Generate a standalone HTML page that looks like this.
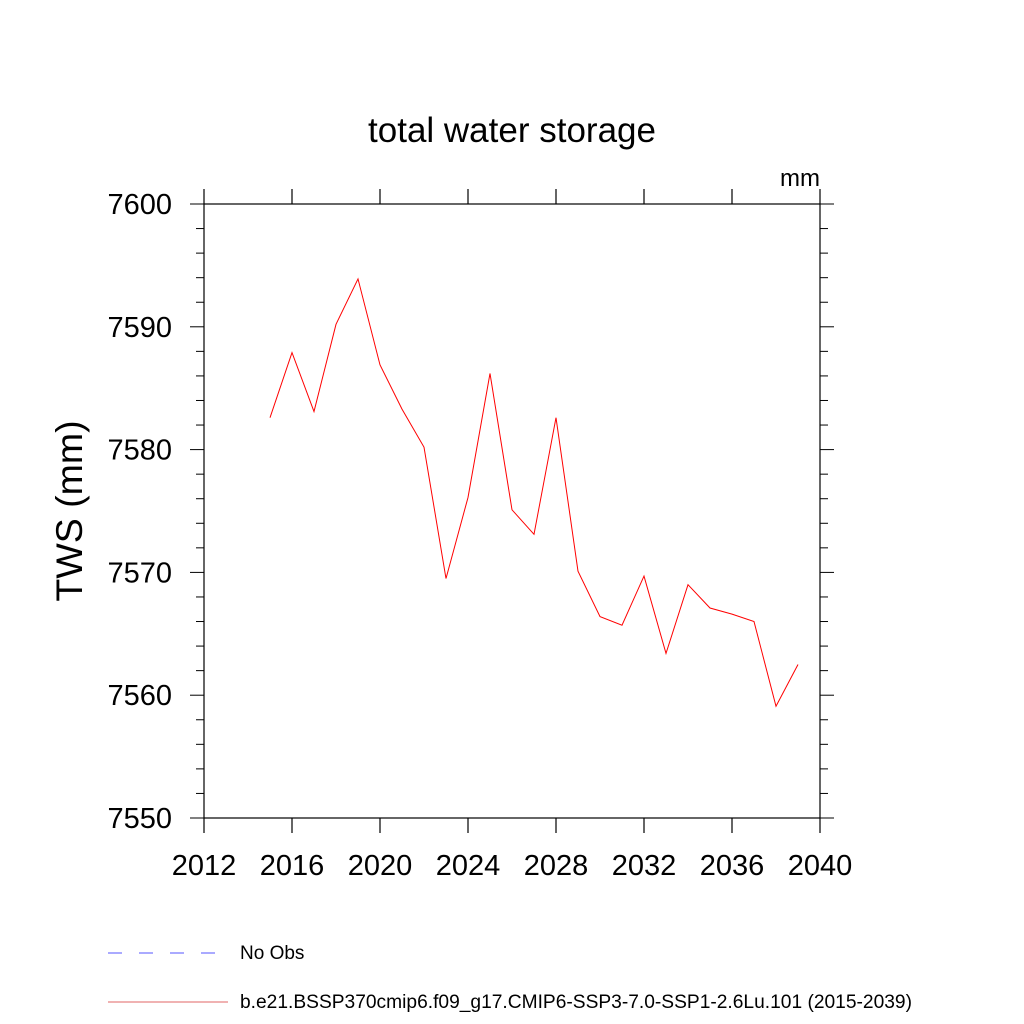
<!DOCTYPE html>
<html><head><meta charset="utf-8"><style>body{margin:0;background:#fff}svg{display:block;font-family:"Liberation Sans",sans-serif}</style></head>
<body>
<svg id="c" width="1024" height="1024" viewBox="0 0 1024 1024">
<text x="512" y="142" font-size="35" text-anchor="middle">total water storage</text>
<text x="820" y="186" font-size="24" text-anchor="end">mm</text>
<text transform="translate(82,511) rotate(-90)" font-size="37.5" text-anchor="middle">TWS  (mm)</text>
<g id="axes"></g>
<g id="series"></g>
<g>
<line x1="108" y1="953" x2="215" y2="953" stroke="#5555ff" stroke-width="1" stroke-dasharray="14,17"/>
<text x="240" y="959" font-size="19">No Obs</text>
<line x1="108" y1="1002" x2="228" y2="1002" stroke="#e06666" stroke-width="1"/>
<text x="240" y="1008" font-size="19.2">b.e21.BSSP370cmip6.f09_g17.CMIP6-SSP3-7.0-SSP1-2.6Lu.101 (2015-2039)</text>
</g>
</svg>
<script>
const years=[2015,2016,2017,2018,2019,2020,2021,2022,2023,2024,2025,2026,2027,2028,2029,2030,2031,2032,2033,2034,2035,2036,2037,2038,2039];
const tws=[7582.6,7587.9,7583.1,7590.2,7593.9,7586.9,7583.3,7580.2,7569.5,7576.1,7586.2,7575.1,7573.1,7582.6,7570.1,7566.4,7565.7,7569.7,7563.4,7569.0,7567.1,7566.6,7566.0,7559.1,7562.5];
const xTicks=[2012,2016,2020,2024,2028,2032,2036,2040];
const yTicks=[7550,7560,7570,7580,7590,7600];
const X0=204,X1=820,Y0=818,Y1=204;
const xs=v=>X0+(v-2012)/(2040-2012)*(X1-X0);
const ys=v=>Y0-(v-7550)/(7600-7550)*(Y0-Y1);
const NS='http://www.w3.org/2000/svg';
const ax=document.getElementById('axes'),se=document.getElementById('series');
function ln(p,x1,y1,x2,y2,w,name){const l=document.createElementNS(NS,'line');l.setAttribute('x1',x1);l.setAttribute('y1',y1);l.setAttribute('x2',x2);l.setAttribute('y2',y2);l.setAttribute('stroke','#000');l.setAttribute('stroke-width',w);


p.appendChild(l);}
function tx(x,y,s,anchor,name){const t=document.createElementNS(NS,'text');t.setAttribute('x',x);t.setAttribute('y',y);t.setAttribute('font-size','29');t.setAttribute('text-anchor',anchor);t.textContent=s;


ax.appendChild(t);}
const r=document.createElementNS(NS,'rect');r.setAttribute('x',X0);r.setAttribute('y',Y1);r.setAttribute('width',X1-X0);r.setAttribute('height',Y0-Y1);r.setAttribute('fill','none');r.setAttribute('stroke','#000');r.setAttribute('stroke-width','1.2');


ax.appendChild(r);
xTicks.forEach(v=>{const x=xs(v);ln(ax,x,Y0,x,Y0+15,1.2,'x-tick');ln(ax,x,Y1,x,Y1-15,1.2,'x-tick-top');tx(x,875,String(v),'middle','x-tick-label');});
for(let v=7550;v<=7600;v+=2){const y=ys(v);const maj=(v%10===0);const L=maj?14:8;ln(ax,X0,y,X0-L,y,1,'y-tick');ln(ax,X1,y,X1+L,y,1,'y-tick-right');}
yTicks.forEach(v=>tx(172,ys(v)+10,String(v),'end','y-tick-label'));
const pl=document.createElementNS(NS,'polyline');pl.setAttribute('points',years.map((y,i)=>xs(y)+','+ys(tws[i])).join(' '));pl.setAttribute('fill','none');pl.setAttribute('stroke','#ff0000');pl.setAttribute('stroke-width','1');


se.appendChild(pl);
</script>
</body></html>
